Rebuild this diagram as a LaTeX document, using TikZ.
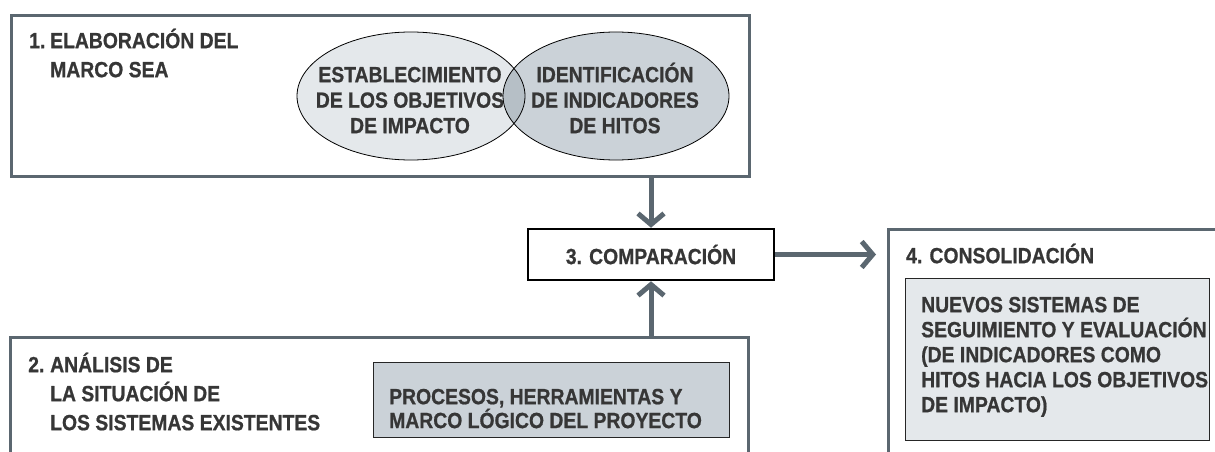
\documentclass[tikz,border=0pt]{standalone}
\usepackage{fontspec}
\setmainfont[FakeStretch=0.88, BoldFeatures={FakeBold=0.8}]{Liberation Sans}
\usetikzlibrary{arrows.meta,positioning}
\definecolor{slate}{HTML}{5B6770}
\definecolor{ink}{HTML}{363636}
\definecolor{fogfill}{HTML}{E4E8EB}
\definecolor{greyfill}{HTML}{CBD2D8}
\definecolor{overlapfill}{HTML}{B6BFC6}
\newcommand{\capstrut}{\rule{0pt}{21pt}}
\begin{document}
\begin{tikzpicture}[x=1pt,y=-1pt,
    frame/.style={draw=slate, line width=3pt},
    txt/.style={text=ink, font=\bfseries\fontsize{22}{25}\selectfont, inner sep=0pt},
    title/.style={txt, font=\bfseries\fontsize{22}{29}\selectfont, align=left, anchor=north west},
    panel/.style={draw=black!85, line width=1.2pt, inner sep=0pt, anchor=north west},
    flow/.style={draw=slate, line width=5pt, -{Straight Barb[length=11pt,width=26pt]}}]
    \useasboundingbox (0,0) rectangle (1215,452);
    \clip (0,0) rectangle (1215,452);
    % Frames
    \node[frame, minimum width=738pt, minimum height=161pt, anchor=north west] (sea) at (10,14) {};
    \node[minimum width=738pt, minimum height=150pt, anchor=north west] (analysis) at (10,337) {};
    \draw[frame] (analysis.south west) -- (analysis.north west) -- (analysis.north east) -- (analysis.south east);
    \node[minimum width=340pt, minimum height=240pt, anchor=north west] (consol) at (888,229) {};
    \draw[frame] (consol.south west) -- (consol.north west) -- (consol.north east);
    % Ellipses
    \fill[fogfill] (411,96) ellipse [x radius=114pt, y radius=64pt];
    \fill[greyfill] (616,96) ellipse [x radius=113pt, y radius=64pt];
    \begin{scope}
        \clip (411,96) ellipse [x radius=114pt, y radius=64pt];
        \fill[overlapfill] (616,96) ellipse [x radius=113pt, y radius=64pt];
    \end{scope}
    \draw[line width=0.8pt] (411,96) ellipse [x radius=114pt, y radius=64pt];
    \draw[line width=0.8pt] (616,96) ellipse [x radius=113pt, y radius=64pt];
    % Titles
    \node[title] (sea-title) at (29,27) {\capstrut\makebox[21pt][l]{1.}ELABORACIÓN DEL\\\hspace*{21pt}MARCO SEA};
    \node[title] (analysis-title) at (28,351) {\capstrut\makebox[22pt][l]{2.}ANÁLISIS DE\\\hspace*{22pt}LA SITUACIÓN DE\\\hspace*{22pt}LOS SISTEMAS EXISTENTES};
    \node[title] (consol-title) at (906,242) {\capstrut 4. CONSOLIDACIÓN};
    % Ellipse texts
    \node[txt, align=center, anchor=north, font=\bfseries\fontsize{22}{25.5}\selectfont] (impact) at (410,61) {\capstrut ESTABLECIMIENTO\\DE LOS OBJETIVOS\\DE IMPACTO};
    \node[txt, align=center, anchor=north, font=\bfseries\fontsize{22}{25.5}\selectfont] (milestone) at (615,61) {\capstrut IDENTIFICACIÓN\\DE INDICADORES\\DE HITOS};
    % Panels
    \node[panel, fill=greyfill, minimum width=356pt, minimum height=75pt] (tools) at (373,362) {};
    \node[txt, align=left, anchor=north west, font=\bfseries\fontsize{22}{21}\selectfont] (tools-txt) at ([shift={(16,21)}]tools.north west) {\capstrut PROCESOS, HERRAMIENTAS Y\\MARCO LÓGICO DEL PROYECTO};
    \node[panel, fill=fogfill, minimum width=304pt, minimum height=162pt] (newsys) at (905,278) {};
    \node[txt, align=left, anchor=north west] (newsys-txt) at ([shift={(16,13)}]newsys.north west) {\capstrut NUEVOS SISTEMAS DE\\SEGUIMIENTO Y EVALUACIÓN\\(DE INDICADORES COMO\\HITOS HACIA LOS OBJETIVOS\\DE IMPACTO)};
    % Comparison
    \node[txt, draw=black, line width=2.5pt, fill=white, minimum width=246pt, minimum height=51pt] (cmp) at (651,254.5) {3. COMPARACIÓN};
    % Arrows
    \draw[flow] (sea.south -| cmp) -- (cmp.north);
    \draw[flow] (analysis.north -| cmp) -- (cmp.south);
    \draw[flow] (cmp.east) -- ([xshift=-12pt]consol.west |- cmp);
\end{tikzpicture}
\end{document}
